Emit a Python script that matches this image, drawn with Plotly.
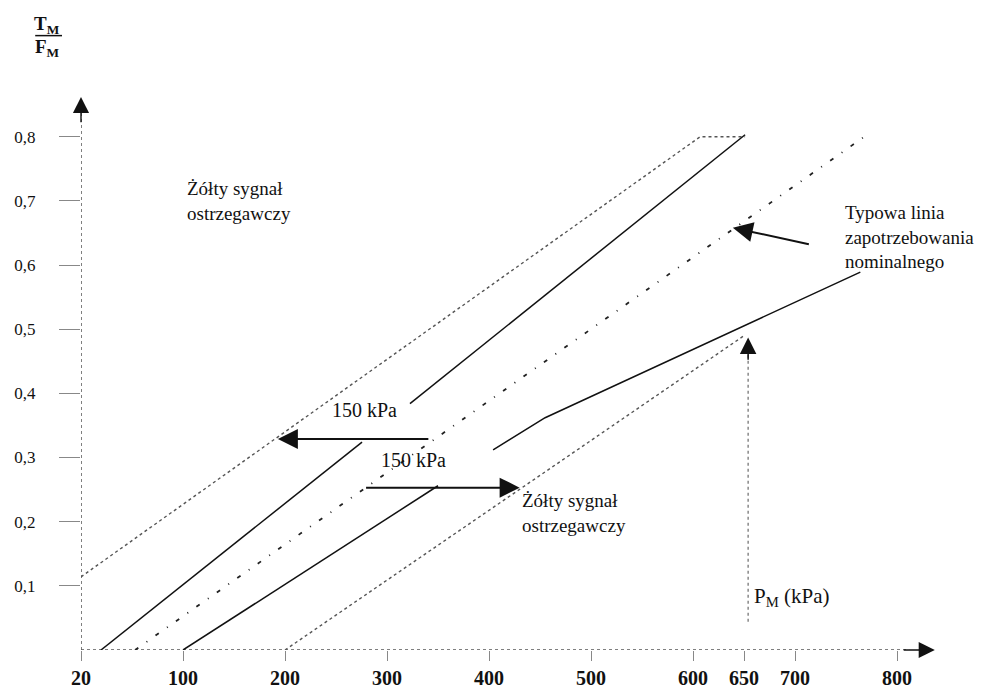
import plotly.graph_objects as go

# ---- data (x in kPa scale, y = T_M/F_M) ----
upper_dotted_x = [0, 607, 651]
upper_dotted_y = [0.114, 0.800, 0.800]

upper_solid_x = [19.6, 275.5, None, 322.5, 651]
upper_solid_y = [0.0, 0.324, None, 0.384, 0.803]

nominal_x = [53, 770.6]
nominal_y = [0.0, 0.803]

lower_solid_x = [100, 350, None, 404, 455, 764]
lower_solid_y = [0.0, 0.256, None, 0.312, 0.362, 0.589]

lower_dotted_x = [200, 651]
lower_dotted_y = [0.0, 0.491]

x_tickvals = [0, 100, 200, 300, 400, 500, 600, 650, 700, 800]
x_ticktext = ["20", "100", "200", "300", "400", "500", "600", "650", "700", "800"]
y_tickvals = [0.1, 0.2, 0.3, 0.4, 0.5, 0.6, 0.7, 0.8]
y_ticktext = ["0,1", "0,2", "0,3", "0,4", "0,5", "0,6", "0,7", "0,8"]

# arrows: (head_x, head_y, tail_x, tail_y)
arrow_150_upper = (193, 0.329, 342, 0.329)
arrow_150_lower = (430, 0.253, 278, 0.253)
arrow_nominal = (639, 0.658, 715, 0.632)
pm_marker_x = 654
pm_marker_y = [0.044, 0.46]
pm_marker_head = 0.487

SERIF = "Liberation Serif, DejaVu Serif, serif"

fig = go.Figure()

# axis lines (dotted)
fig.add_trace(go.Scatter(x=[0, 0], y=[0, 0.84], mode="lines",
                         line=dict(color="#555", width=1.5, dash="dot"),
                         hoverinfo="skip", cliponaxis=False))
fig.add_trace(go.Scatter(x=[0, 812], y=[0, 0], mode="lines",
                         line=dict(color="#555", width=1.5, dash="dot"),
                         hoverinfo="skip", cliponaxis=False))

fig.add_trace(go.Scatter(x=upper_dotted_x, y=upper_dotted_y, mode="lines",
                         line=dict(color="#555", width=1.4, dash="dot")))
fig.add_trace(go.Scatter(x=upper_solid_x, y=upper_solid_y, mode="lines",
                         line=dict(color="#111", width=1.5), connectgaps=False))
fig.add_trace(go.Scatter(x=nominal_x, y=nominal_y, mode="lines",
                         line=dict(color="#222", width=1.8, dash="4px,10px,1px,10px")))
fig.add_trace(go.Scatter(x=lower_solid_x, y=lower_solid_y, mode="lines",
                         line=dict(color="#111", width=1.5), connectgaps=False))
fig.add_trace(go.Scatter(x=lower_dotted_x, y=lower_dotted_y, mode="lines",
                         line=dict(color="#555", width=1.4, dash="dot")))
fig.add_trace(go.Scatter(x=[pm_marker_x, pm_marker_x], y=pm_marker_y, mode="lines",
                         line=dict(color="#777", width=1.3, dash="dot")))

annotations = []


def arrow(hx, hy, tx, ty, color="#111", width=2.0, size=2.0):
    annotations.append(dict(x=hx, y=hy, ax=tx, ay=ty, xref="x", yref="y",
                            axref="x", ayref="y", showarrow=True, arrowhead=2,
                            arrowsize=size, arrowwidth=width, arrowcolor=color,
                            text=""))


arrow(*arrow_150_upper)
arrow(*arrow_150_lower)
arrow(*arrow_nominal)
arrow(pm_marker_x, pm_marker_head, pm_marker_x, 0.45, width=1.5, size=2.2)
# axis arrowheads
arrow(0, 0.862, 0, 0.82, width=1.4, size=2.3)
arrow(837, 0, 805, 0, width=1.4, size=2.3)


def label(x, y, text, size=19, xanchor="left", yanchor="middle"):
    annotations.append(dict(x=x, y=y, xref="x", yref="y", text=text, showarrow=False,
                            xanchor=xanchor, yanchor=yanchor, align="left",
                            font=dict(family=SERIF, size=size, color="#111")))


label(102, 0.70, "Żółty sygnał<br>ostrzegawczy")
label(430, 0.213, "Żółty sygnał<br>ostrzegawczy")
label(747, 0.643, "Typowa linia<br>zapotrzebowania<br>nominalnego")
label(244, 0.374, "150 kPa", size=20)
label(292, 0.296, "150 kPa", size=20)
label(658, 0.083, "P<sub>M</sub> (kPa)", size=21)

# fraction T_M / F_M at top-left
annotations.append(dict(x=-0.039, y=1.126, xref="paper", yref="paper",
                        text="<b>T<sub>M</sub></b>", showarrow=False,
                        font=dict(family=SERIF, size=19, color="#111"),
                        xanchor="center", yanchor="middle"))
annotations.append(dict(x=-0.039, y=1.084, xref="paper", yref="paper",
                        text="<b>F<sub>M</sub></b>", showarrow=False,
                        font=dict(family=SERIF, size=19, color="#111"),
                        xanchor="center", yanchor="middle"))

# the page body adds an 8px offset, so the figure is 8px smaller than the window
fig.update_layout(
    width=987, height=684,
    margin=dict(l=73, r=50, t=87, b=42, autoexpand=False),
    paper_bgcolor="white", plot_bgcolor="white",
    showlegend=False,
    annotations=annotations,
    shapes=[dict(type="line", xref="paper", yref="paper",
                 x0=-0.053, x1=-0.022, y0=1.107, y1=1.107,
                 line=dict(color="#111", width=1.5))],
    xaxis=dict(range=[0, 847], tickvals=x_tickvals, ticktext=x_ticktext,
               showgrid=False, zeroline=False, showline=False,
               ticks="outside", ticklen=10, tickcolor="#888", tickwidth=1.2,
               tickfont=dict(family=SERIF, size=20, color="#111", weight="bold"),
               fixedrange=True, automargin=False),
    yaxis=dict(range=[0, 0.865], tickvals=y_tickvals, ticktext=y_ticktext,
               showgrid=False, zeroline=False, showline=False,
               ticks="outside", ticklen=21, tickcolor="#888", tickwidth=1.2,
               ticklabelstandoff=20,
               tickfont=dict(family=SERIF, size=17, color="#111"),
               fixedrange=True, automargin=False),
)

fig.write_html("out.html")
